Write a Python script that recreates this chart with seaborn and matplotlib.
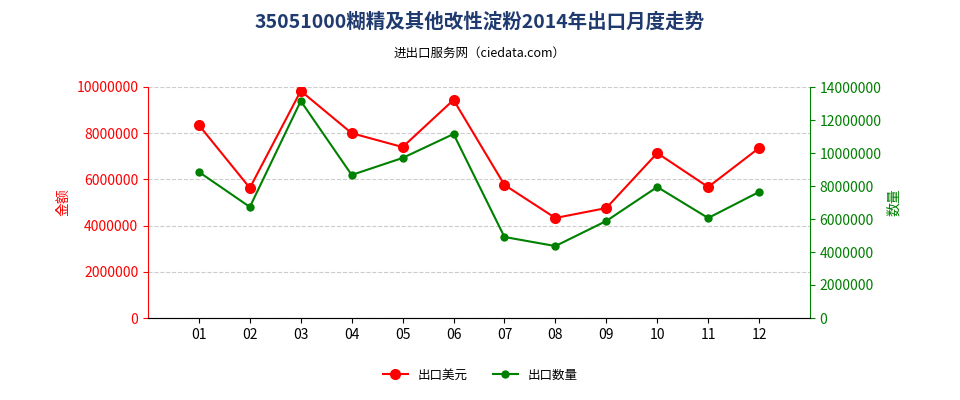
import matplotlib
matplotlib.use("Agg")
import matplotlib.pyplot as plt
from matplotlib import font_manager as fm
import seaborn as sns
import pandas as pd

months = ["01","02","03","04","05","06","07","08","09","10","11","12"]
usd = [8350000,5630000,9830000,8000000,7400000,9440000,5760000,4330000,4760000,7140000,5670000,7360000]
qty = [8850000,6730000,13150000,8670000,9700000,11150000,4910000,4360000,5880000,7940000,6060000,7640000]

cjk = [f.name for f in fm.fontManager.ttflist if "CJK" in f.name]
pref = [n for n in cjk if "SC" in n] or cjk
plt.rcParams["font.family"] = "sans-serif"
plt.rcParams["font.sans-serif"] = (pref[:1] if pref else []) + ["DejaVu Sans"]
df = pd.DataFrame({"x": range(12), "usd": usd, "qty": qty})

fig = plt.figure(figsize=(9.6, 4), dpi=100)
ax = fig.add_axes([148/960, 1-318/400, (810-148)/960, (318-87)/400])
ax2 = ax.twinx()
sns.lineplot(data=df, x="x", y="usd", ax=ax, color="#ff0000", marker="o", markersize=8,
             markeredgewidth=0, linewidth=1.5, label="出口美元", legend=False)
sns.lineplot(data=df, x="x", y="qty", ax=ax2, color="#008000", marker="o", markersize=6,
             markeredgewidth=0, linewidth=1.5, label="出口数量", legend=False)
ax.set_xlim(-1, 12)
ax.set_ylim(0, 10000000)
ax2.set_ylim(0, 14000000)
ax.set_yticks(range(0, 10000001, 2000000))
ax2.set_yticks(range(0, 14000001, 2000000))
ax.set_yticklabels([str(v) for v in range(0, 10000001, 2000000)], color="#ff0000", fontsize=10)
ax2.set_yticklabels([str(v) for v in range(0, 14000001, 2000000)], color="#008000", fontsize=10)
ax.set_xticks(range(12))
ax.set_xticklabels(months, fontsize=10)
ax.set_xlabel("")
ax.set_ylabel("金额", color="#ff0000", fontsize=10)
ax2.set_ylabel("数量", color="#008000", fontsize=10)
ax.yaxis.grid(True, linestyle="--", color="#cccccc")
ax.set_axisbelow(True)
ax.spines["top"].set_visible(False); ax2.spines["top"].set_visible(False)
ax.spines["left"].set_color("#ff0000")
ax2.spines["left"].set_visible(False)
ax2.spines["right"].set_color("#008000")
ax.spines["right"].set_visible(False)
ax.spines["bottom"].set_color("#888888")
ax.tick_params(axis="y", colors="#ff0000", labelcolor="#ff0000")
ax2.tick_params(axis="y", colors="#008000", labelcolor="#008000")

fig.text(0.5, 1-22/400, "35051000糊精及其他改性淀粉2014年出口月度走势", ha="center", va="center",
         fontsize=14, fontweight="bold", color="#1f3a6e")
fig.text(0.5, 1-53/400, "进出口服务网（ciedata.com）", ha="center", va="center", fontsize=9)
h1, l1 = ax.get_legend_handles_labels()
h2, l2 = ax2.get_legend_handles_labels()
fig.legend(h1+h2, l1+l2, loc="center", bbox_to_anchor=(0.5, 1-375/400), ncol=2, frameon=False, fontsize=9)
fig.savefig("out.png", dpi=100)
